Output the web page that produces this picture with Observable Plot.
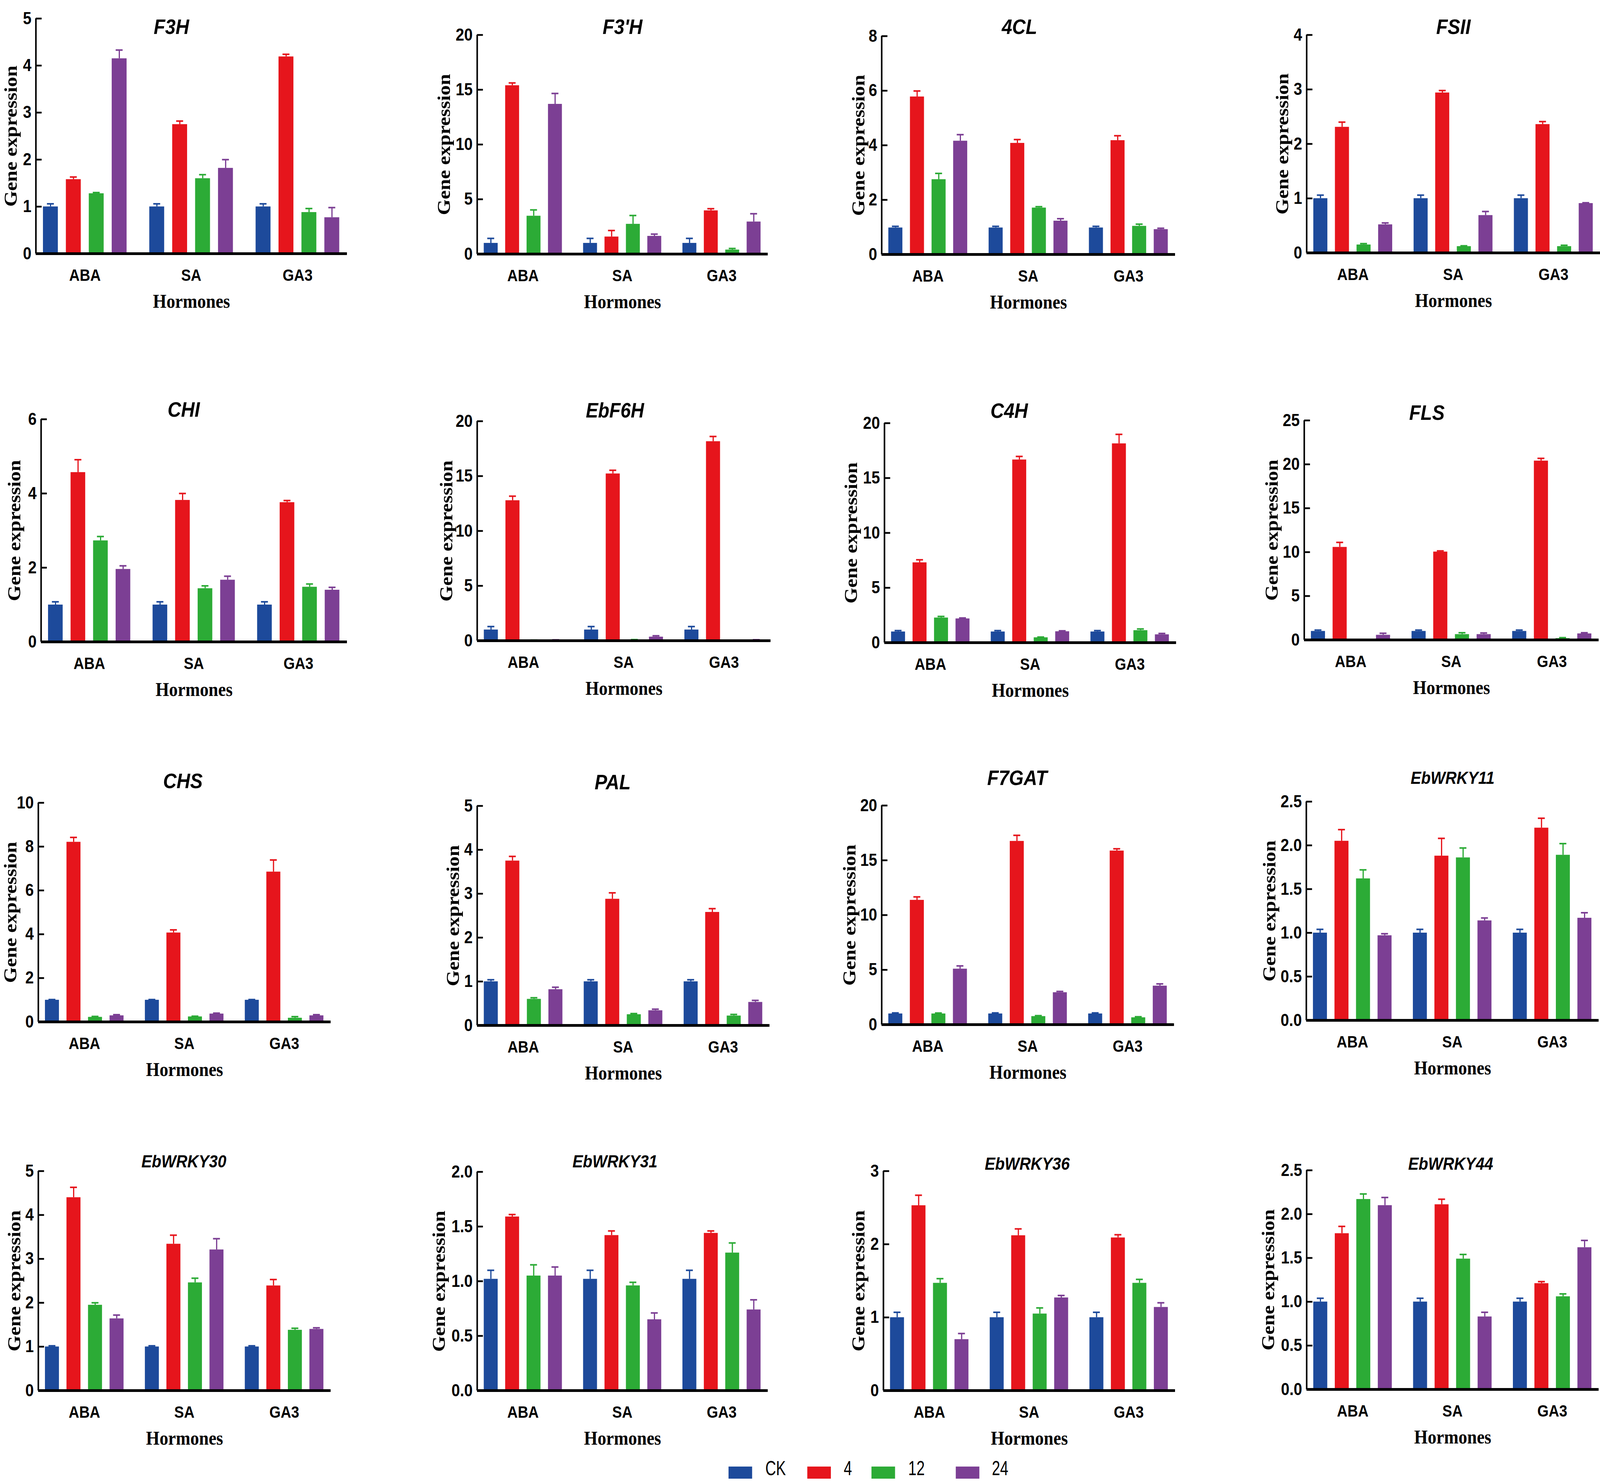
<!DOCTYPE html>
<html>
<head>
<meta charset="utf-8">
<script src="https://cdn.jsdelivr.net/npm/d3@7"></script>
<script src="https://cdn.jsdelivr.net/npm/@observablehq/plot@0.6"></script>
<style>
  html, body { margin: 0; padding: 0; background: #fff; overflow: hidden; }
  #outer { position: relative; overflow: hidden; background: #fff; }
  #page { position: absolute; left: 0; top: 0; width: 4612px; height: 3792px; background: #fff; transform-origin: 0 0; }
  .panel { position: absolute; }
  .panel svg { max-width: none !important; display: block; }
  .sw { position: absolute; }
  .lt { position: absolute; font-size: 52px; color: #000; line-height: 1; transform-origin: 0 50%; }
</style>
</head>
<body>
<div id="outer"><div id="page"></div></div>
<script>
// ---------- data ----------
const hormones = ["ABA", "SA", "GA3"];
const times = ["CK", "4", "12", "24"];
const colors = ["#1d4a9b", "#e6151c", "#2cab36", "#7c3f94"];
const genes = ["F3H", "F3'H", "4CL", "FSII", "CHI", "EbF6H", "C4H", "FLS",
               "CHS", "PAL", "F7GAT", "EbWRKY11", "EbWRKY30", "EbWRKY31", "EbWRKY36", "EbWRKY44"];
const yMax  = [5, 20, 8, 4, 6, 20, 20, 25, 10, 5, 20, 2.5, 5, 2.0, 3, 2.5];
const yStep = [1, 5, 2, 1, 2, 5, 5, 5, 2, 1, 5, 0.5, 1, 0.5, 1, 0.5];

// values ordered ABA(CK,4,12,24), SA(CK,4,12,24), GA3(CK,4,12,24)
const F3H_mean = [1.00, 1.58, 1.28, 4.15, 1.00, 2.75, 1.60, 1.82, 1.00, 4.19, 0.88, 0.77];
const F3H_err  = [0.06, 0.05, 0.02, 0.18, 0.06, 0.07, 0.08, 0.18, 0.06, 0.05, 0.08, 0.21];
const F3pH_mean = [1.00, 15.39, 3.48, 13.69, 1.00, 1.58, 2.74, 1.64, 1.00, 3.97, 0.39, 2.95];
const F3pH_err  = [0.43, 0.23, 0.55, 0.97, 0.43, 0.57, 0.78, 0.18, 0.43, 0.17, 0.12, 0.73];
const CL4_mean = [0.98, 5.78, 2.75, 4.16, 0.98, 4.08, 1.71, 1.23, 0.98, 4.18, 1.04, 0.92];
const CL4_err  = [0.05, 0.21, 0.22, 0.23, 0.05, 0.13, 0.04, 0.08, 0.05, 0.17, 0.07, 0.04];
const FSII_mean = [1.00, 2.31, 0.15, 0.52, 1.00, 2.94, 0.12, 0.69, 1.00, 2.36, 0.12, 0.91];
const FSII_err  = [0.06, 0.09, 0.02, 0.03, 0.06, 0.04, 0.01, 0.07, 0.06, 0.05, 0.02, 0.01];
const CHI_mean = [1.00, 4.57, 2.73, 1.96, 1.00, 3.82, 1.44, 1.67, 1.00, 3.76, 1.48, 1.40];
const CHI_err  = [0.08, 0.34, 0.11, 0.09, 0.08, 0.18, 0.07, 0.10, 0.08, 0.05, 0.08, 0.07];
const EbF6H_mean = [1.00, 12.78, 0.04, 0.06, 1.00, 15.22, 0.08, 0.35, 1.00, 18.16, 0.02, 0.06];
const EbF6H_err  = [0.29, 0.39, 0.02, 0.02, 0.29, 0.31, 0.02, 0.10, 0.29, 0.45, 0.01, 0.03];
const C4H_mean = [1.00, 7.30, 2.27, 2.19, 1.00, 16.67, 0.47, 1.02, 1.00, 18.14, 1.12, 0.74];
const C4H_err  = [0.10, 0.25, 0.12, 0.06, 0.10, 0.30, 0.04, 0.06, 0.10, 0.84, 0.13, 0.10];
const FLS_mean = [1.00, 10.57, 0.03, 0.56, 1.00, 10.04, 0.64, 0.64, 1.00, 20.40, 0.18, 0.72];
const FLS_err  = [0.12, 0.54, 0.02, 0.20, 0.12, 0.10, 0.18, 0.15, 0.12, 0.28, 0.08, 0.10];
const CHS_mean = [1.00, 8.21, 0.22, 0.29, 1.00, 4.07, 0.24, 0.37, 1.00, 6.85, 0.18, 0.29];
const CHS_err  = [0.02, 0.21, 0.03, 0.04, 0.02, 0.13, 0.02, 0.03, 0.02, 0.54, 0.06, 0.04];
const PAL_mean = [1.00, 3.75, 0.60, 0.82, 1.00, 2.88, 0.25, 0.34, 1.00, 2.58, 0.22, 0.53];
const PAL_err  = [0.04, 0.10, 0.03, 0.05, 0.04, 0.14, 0.02, 0.03, 0.04, 0.08, 0.03, 0.04];
const F7GAT_mean = [1.00, 11.37, 1.00, 5.09, 1.00, 16.75, 0.76, 2.94, 1.00, 15.87, 0.65, 3.54];
const F7GAT_err  = [0.07, 0.29, 0.06, 0.27, 0.07, 0.53, 0.06, 0.09, 0.07, 0.18, 0.07, 0.18];
const EbWRKY11_mean = [1.00, 2.05, 1.62, 0.97, 1.00, 1.88, 1.86, 1.14, 1.00, 2.20, 1.89, 1.17];
const EbWRKY11_err  = [0.04, 0.13, 0.10, 0.02, 0.04, 0.20, 0.11, 0.03, 0.04, 0.11, 0.13, 0.06];
const EbWRKY30_mean = [1.00, 4.40, 1.95, 1.64, 1.00, 3.34, 2.46, 3.21, 1.00, 2.39, 1.38, 1.40];
const EbWRKY30_err  = [0.02, 0.23, 0.05, 0.08, 0.02, 0.20, 0.10, 0.25, 0.02, 0.14, 0.04, 0.03];
const EbWRKY31_mean = [1.02, 1.59, 1.05, 1.05, 1.02, 1.42, 0.96, 0.65, 1.02, 1.44, 1.26, 0.74];
const EbWRKY31_err  = [0.08, 0.02, 0.10, 0.08, 0.08, 0.04, 0.03, 0.06, 0.08, 0.02, 0.09, 0.09];
const EbWRKY36_mean = [1.00, 2.53, 1.47, 0.70, 1.00, 2.12, 1.05, 1.27, 1.00, 2.09, 1.47, 1.14];
const EbWRKY36_err  = [0.07, 0.14, 0.06, 0.08, 0.07, 0.09, 0.08, 0.03, 0.07, 0.04, 0.05, 0.06];
const EbWRKY44_mean = [1.00, 1.78, 2.17, 2.10, 1.00, 2.11, 1.49, 0.83, 1.00, 1.21, 1.06, 1.62];
const EbWRKY44_err  = [0.04, 0.08, 0.06, 0.09, 0.04, 0.06, 0.05, 0.05, 0.04, 0.02, 0.03, 0.08];

const meanSets = [F3H_mean, F3pH_mean, CL4_mean, FSII_mean, CHI_mean, EbF6H_mean, C4H_mean, FLS_mean,
                  CHS_mean, PAL_mean, F7GAT_mean, EbWRKY11_mean, EbWRKY30_mean, EbWRKY31_mean, EbWRKY36_mean, EbWRKY44_mean];
const errSets = [F3H_err, F3pH_err, CL4_err, FSII_err, CHI_err, EbF6H_err, C4H_err, FLS_err,
                 CHS_err, PAL_err, F7GAT_err, EbWRKY11_err, EbWRKY30_err, EbWRKY31_err, EbWRKY36_err, EbWRKY44_err];

// ---------- layout (pixels in the 4612 x 3792 design) ----------
const PAGE_W = 4612, PAGE_H = 3792;
// plot frame: [left, right, top, bottom]
const frames = [
  [103, 1000, 47, 649], [1375, 2213, 89, 650], [2541, 3387, 92, 651], [3766, 4612, 89, 647],
  [118, 1000, 1073, 1643], [1375, 2221, 1078, 1640], [2549, 3390, 1083, 1645], [3759, 4608, 1076, 1638],
  [110, 953, 2055, 2616], [1375, 2218, 2063, 2625], [2541, 3384, 2062, 2623], [3765, 4608, 2052, 2612],
  [110, 953, 2998, 3560], [1375, 2213, 3000, 3560], [2546, 3387, 2998, 3560], [3766, 4608, 2996, 3557]
];
const titleOffset = [
  [-58, 22], [0, -20], [-26, -23], [0, -20],
  [-30, -24], [-26, -26], [-61, -31], [-71, -19],
  [-5, -55], [-31, -60], [-31, -70], [0, -60],
  [-2, -24], [-22, -26], [-6, -18], [-6, -16]
];
const titleSize = [54, 54, 54, 54, 54, 53, 54, 54, 54, 54, 54, 45, 45, 45, 45, 45];
const yLabelOffset = [72, 95, 66, 70, 77, 88, 96, 93, 80, 69, 92, 106, 69, 110, 71, 110];
const legendSwatchLeft = [2100, 2327, 2512, 2755];
const legendTextLeft = [2206, 2432, 2618, 2859];

const X_SPAN = 13.58, FIRST = 0.64, GROUP = 4.64, HALF = 0.325;
const M = {l: 150, r: 20, t: 110, b: 170};
const SANS = "'Liberation Sans', Arial, sans-serif";
const SERIF = "'Liberation Serif', 'Times New Roman', serif";

const outer = document.getElementById("outer");
const page = document.getElementById("page");

genes.forEach((gene, i) => {
  const [L, R, T, B] = frames[i];
  const fw = R - L, fh = B - T;
  const unit = fw / X_SPAN;
  const rows = [];
  hormones.forEach((h, g) => times.forEach((t, s) => {
    const k = g * 4 + s;
    rows.push({hormone: h, time: t, pos: FIRST + g * GROUP + s, mean: meanSets[i][k], err: errSets[i][k]});
  }));
  const ticks = d3.range(0, yMax[i] + yStep[i] / 2, yStep[i]);
  const fmt = yStep[i] < 1 ? d3.format(".1f") : d3.format("d");
  const centers = hormones.map((h, g) => FIRST + g * GROUP + 1.5);
  const cap = 10 / unit, tickLen = 17 / unit;
  const W = fw + M.l + M.r, H = fh + M.t + M.b;

  const svg = Plot.plot({
    width: W, height: H,
    marginLeft: M.l, marginRight: M.r, marginTop: M.t, marginBottom: M.b,
    style: {background: "transparent", overflow: "visible"},
    x: {domain: [0, X_SPAN]},
    y: {domain: [0, yMax[i]]},
    color: {domain: times, range: colors},
    marks: [
      Plot.rectY(rows, {x1: d => d.pos - HALF, x2: d => d.pos + HALF, y: "mean", fill: "time"}),
      Plot.ruleX(rows, {x: "pos", y1: "mean", y2: d => d.mean + d.err, stroke: "time", strokeWidth: 3.5}),
      Plot.ruleY(rows, {y: d => d.mean + d.err, x1: d => d.pos - cap, x2: d => d.pos + cap, stroke: "time", strokeWidth: 4}),
      Plot.ruleY(ticks, {y: d => d, x1: () => 0, x2: () => tickLen, stroke: "black", strokeWidth: 4.5}),
      Plot.ruleX([0], {stroke: "black", strokeWidth: 4.5}),
      Plot.ruleY([0], {stroke: "black", strokeWidth: 7}),
      Plot.axisY({ticks, tickFormat: fmt, tickSize: 0, tickPadding: 13, label: null,
                  fontSize: 44, fontWeight: "bold", fontFamily: SANS, fill: "black"}),
      Plot.axisX({ticks: centers, tickFormat: d => hormones[Math.round((d - centers[0]) / GROUP)],
                  tickSize: 0, tickPadding: 56, lineAnchor: "middle", label: null,
                  fontSize: 42, fontWeight: "bold", fontFamily: SANS, fill: "black"}),
      Plot.text([gene], {frameAnchor: "top", dx: titleOffset[i][0], dy: titleOffset[i][1],
                  textAnchor: "middle", lineAnchor: "middle",
                  fontSize: titleSize[i], fontWeight: "bold", fontStyle: "italic", fontFamily: SANS, fill: "black"}),
      Plot.text(["Gene expression"], {frameAnchor: "left", dx: -yLabelOffset[i], rotate: -90,
                  textAnchor: "middle", lineAnchor: "middle",
                  fontSize: 52, fontWeight: "bold", fontFamily: SERIF, fill: "black"}),
      Plot.text(["Hormones"], {frameAnchor: "bottom", dy: 122,
                  textAnchor: "middle", lineAnchor: "middle",
                  fontSize: 50, fontWeight: "bold", fontFamily: SERIF, fill: "black"})
    ]
  });
  const wrap = document.createElement("div");
  wrap.className = "panel";
  wrap.style.left = (L - M.l) + "px";
  wrap.style.top = (T - M.t) + "px";
  wrap.style.width = W + "px";
  wrap.style.height = H + "px";
  wrap.appendChild(svg);
  page.appendChild(wrap);
});

// legend (narrow sans; emulate narrowing if the narrow face is not installed)
const ctx = document.createElement("canvas").getContext("2d");
ctx.font = "52px 'Liberation Sans Narrow', monospace";
const wNarrow = ctx.measureText("CK 12 24").width;
ctx.font = "52px monospace";
const wMono = ctx.measureText("CK 12 24").width;
const hasNarrow = Math.abs(wNarrow - wMono) > 1;
times.forEach((t, k) => {
  const sw = document.createElement("div");
  sw.className = "sw";
  sw.style.left = legendSwatchLeft[k] + "px";
  sw.style.top = "3755px";
  sw.style.width = "68px";
  sw.style.height = "31px";
  sw.style.background = colors[k];
  page.appendChild(sw);
  const tx = document.createElement("div");
  tx.className = "lt";
  tx.style.left = legendTextLeft[k] + "px";
  tx.style.top = "3759px";
  tx.style.fontFamily = hasNarrow ? "'Liberation Sans Narrow', sans-serif" : "'Liberation Sans', Arial, sans-serif";
  tx.style.transform = hasNarrow ? "translateY(-50%)" : "translateY(-50%) scaleX(0.82)";
  tx.textContent = t;
  page.appendChild(tx);
});

// map the 4612 x 3792 design onto the actual viewport
function fit() {
  const vw = window.innerWidth || PAGE_W, vh = window.innerHeight || PAGE_H;
  const sx = vw / PAGE_W, sy = vh / PAGE_H;
  page.style.transform = (Math.abs(sx - 1) < 0.002 && Math.abs(sy - 1) < 0.002) ? "" : `scale(${sx}, ${sy})`;
  outer.style.width = vw + "px";
  outer.style.height = vh + "px";
}
fit();
window.addEventListener("resize", fit);
</script>
</body>
</html>
